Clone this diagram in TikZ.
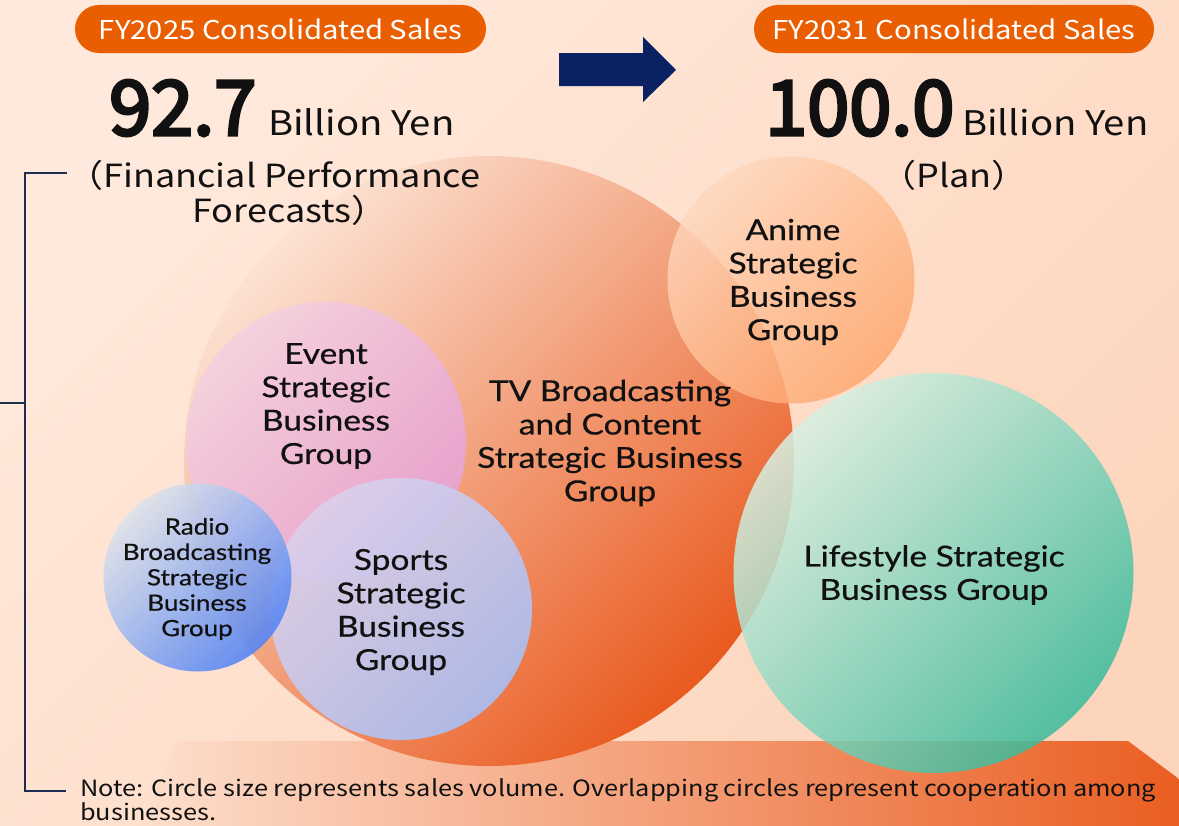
\documentclass[tikz,border=0pt]{standalone}
\usepackage{fontspec}
\setmainfont{Noto Sans CJK JP}[FakeStretch=1.13]
\newfontfamily\lblfont{Lato}[FakeBold=0.6,FakeStretch=1.16]
\newfontfamily\numfont{Noto Sans CJK JP}[FakeBold=4]
\definecolor{bgA}{HTML}{FFE9DC}
\definecolor{bgB}{HTML}{FDD5BC}
\definecolor{pillOr}{HTML}{E95E00}
\definecolor{navy}{HTML}{0A2162}
\definecolor{ink}{HTML}{111111}
\definecolor{tvA}{HTML}{FCE2D3}
\definecolor{tvB}{HTML}{E95A1F}
\definecolor{evA}{HTML}{F4D0E0}
\definecolor{evB}{HTML}{E6A2D8}
\definecolor{raA}{HTML}{DDE2EA}
\definecolor{raB}{HTML}{5585F3}
\definecolor{spA}{HTML}{DCD0EA}
\definecolor{spB}{HTML}{A8C0F6}
\definecolor{anA}{HTML}{FFD8BE}
\definecolor{anB}{HTML}{FFA66C}
\definecolor{liA}{HTML}{D8F0E2}
\definecolor{liB}{HTML}{38BC9C}
\definecolor{baA}{HTML}{FDDFCD}
\definecolor{baM}{HTML}{F6B396}
\definecolor{baB}{HTML}{EA5E22}
\definecolor{brk}{HTML}{1F2D50}
\begin{document}
\begin{tikzpicture}[x=1bp,y=1bp,
  pill/.style={fill=pillOr, rounded corners=24bp, minimum width=#1, minimum height=48bp,
    text=white, font=\fontsize{26}{30}\selectfont, inner sep=0pt},
  big/.style={anchor=base west, inner sep=0pt, text=ink, font=\numfont\fontsize{76}{80}\selectfont},
  unit/.style={anchor=base west, inner sep=0pt, text=ink, font=\fontsize{34}{38}\selectfont},
  sub/.style={anchor=base, inner sep=0pt, text=ink, font=\fontsize{32}{36}\selectfont},
  lbl/.style={align=center, inner sep=0pt, text=ink, font=\lblfont\fontsize{29}{33.5}\selectfont},
  slbl/.style={align=center, inner sep=0pt, text=ink, font=\lblfont\fontsize{22.5}{25.5}\selectfont},
  note/.style={anchor=base west, inner sep=0pt, text=ink, font=\fontsize{22.5}{24}\selectfont},
  brack/.style={draw=brk, line width=1.1bp}]
% background
\useasboundingbox (0,0) rectangle (1179,-826);
\shade[top color=bgA, bottom color=bgB, shading angle=45] (0,0) rectangle (1179,-826);
% bottom band
\shade[left color=baA, middle color=baM, right color=baB]
  (178,-741) -- (1128,-741) -- (1179,-779) -- (1179,-826) -- (140,-826) -- cycle;
% circles
\shade[top color=tvA, bottom color=tvB, shading angle=45] (489,-461) circle (305);
\shade[top color=evA, bottom color=evB, shading angle=45, fill opacity=0.87] (326,-442) circle (140);
\shade[top color=spA, bottom color=spB, shading angle=45, fill opacity=0.9] (401,-609) circle (131);
\shade[top color=raA, bottom color=raB, shading angle=45, fill opacity=0.9] (197.5,-577.5) circle (94);
\shade[top color=anA, bottom color=anB, shading angle=45, fill opacity=0.82] (791,-280) circle (123.5);
\shade[top color=liA, bottom color=liB, shading angle=45, fill opacity=0.85] (933.5,-573) circle (200);
% circle labels
\node[lbl] (tvl) at (610,-443) {TV Broadcasting\\and Content\\Strategic Business\\Group};
\node[lbl] (evl) at (326,-406) {Event\\Strategic\\Business\\Group};
\node[lbl] (spl) at (401,-612) {Sports\\Strategic\\Business\\Group};
\node[slbl] (ral) at (197,-579) {Radio\\Broadcasting\\Strategic\\Business\\Group};
\node[lbl] (anl) at (793,-282) {Anime\\Strategic\\Business\\Group};
\node[lbl] (lil) at (934,-575) {Lifestyle Strategic\\Business Group};
% header left
\node[pill=411bp] (p1) at (280.5,-29) {FY2025 Consolidated Sales};
\node[big] (n1) at (109,-135) {92.7};
\node[unit] (u1) at (268,-135) {Billion Yen};
\node[sub] (s1) at (274,-187) {（Financial Performance};
\node[sub] (s2) at (290,-222) {Forecasts）};
% header right
\node[pill=400bp] (p2) at (954,-29) {FY2031 Consolidated Sales};
\node[big] (n2) at (765,-135) {100.0};
\node[unit] (u2) at (962,-135) {Billion Yen};
\node[sub] (s3) at (954,-187) {（Plan）};
% arrow
\fill[navy] (559,-53) -- (643,-53) -- (643,-37) -- (676,-70) -- (643,-102) -- (643,-86) -- (559,-86) -- cycle;
% bracket
\coordinate (bt) at (67,-173);
\coordinate (bb) at (66,-791);
\coordinate (bm) at (0,-403);
\draw[brack] (bt) -- (25,-173) -- (25,-791) -- (bb);
\draw[brack] (bm) -- (25,-403);
% note
\node[note] (nt1) at (80,-796) {Note: Circle size represents sales volume. Overlapping circles represent cooperation among};
\node[note] (nt2) at (80,-820) {businesses.};
\end{tikzpicture}
\end{document}
